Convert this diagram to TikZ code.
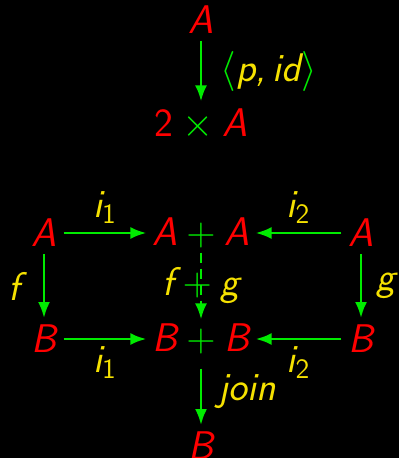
\RequirePackage{fix-cm}
\documentclass[tikz,border=0pt]{standalone}
\usepackage{xcolor}
\usepackage{amsmath}
\usepackage{tikz}
\usetikzlibrary{arrows.meta,positioning}
\definecolor{objR}{RGB}{255,0,0}
\definecolor{flecheG}{RGB}{0,235,0}
\definecolor{etiqY}{RGB}{245,225,0}
\newcommand{\vplus}{\kern.22em\textcolor{flecheG}{$+$}\kern.22em}
\newcommand{\vtimes}{\kern.22em\textcolor{flecheG}{$\times$}\kern.22em}
\newcommand{\vsub}[1]{\textsubscript{\upshape #1}}
\tikzset{
  obj/.style={text=objR, font=\fontsize{20}{24}\selectfont\sffamily\itshape},
  somme/.style={obj, inner xsep=3pt, inner ysep=2pt},
  etiq/.style={text=etiqY, font=\fontsize{20}{24}\selectfont\sffamily\itshape},
  arr/.style={-{Latex[length=8pt,width=6pt]}, line width=1.3pt, draw=flecheG},
}

\begin{document}
\begin{tikzpicture}[x=0.5pt, y=-0.5pt]
  \useasboundingbox (0,0) rectangle (399,458);
  \fill[black] (0,0) rectangle (399,458);
  \node[obj] (a) at (201,20) {A};
  \node[obj] (b) at (201,124) {{\upshape 2}\vtimes A};
  \draw[arr] (a) -- (b) node[etiq, midway, right=6pt]
    {\textcolor{flecheG}{$\langle$}p,\,id\textcolor{flecheG}{$\rangle$}};
  \node[obj] (l1) at (44,233) {A};
  \node[somme] (s1) at (201,233) {A\vplus A};
  \node[obj] (r1) at (361,233) {A};
  \node[obj] (l2) at (44,339) {B};
  \node[somme] (s2) at (201,339) {B\vplus B};
  \node[obj] (r2) at (361,339) {B};
  \node[obj] (c) at (201,446) {B};
  \draw[arr] (l1) -- (s1) node[etiq, midway, above=1pt] {i\vsub{1}};
  \draw[arr] (r1) -- (s1) node[etiq, midway, above=1pt] {i\vsub{2}};
  \draw[arr] (l2) -- (s2) node[etiq, midway, below] {i\vsub{1}};
  \draw[arr] (r2) -- (s2) node[etiq, midway, below] {i\vsub{2}};
  \draw[arr] (l1) -- (l2) node[etiq, midway, left=8pt] {f};
  \draw[arr] (r1) -- (r2) node[etiq, midway, right=4pt] {g};
  \draw[arr, dash pattern=on 5pt off 3pt] (s1) -- (s2) node[etiq, midway] {f\vplus g};
  \draw[arr, shorten <=5pt] (s2) -- (c) node[etiq, midway, right=5pt] {join};
\end{tikzpicture}
\end{document}
